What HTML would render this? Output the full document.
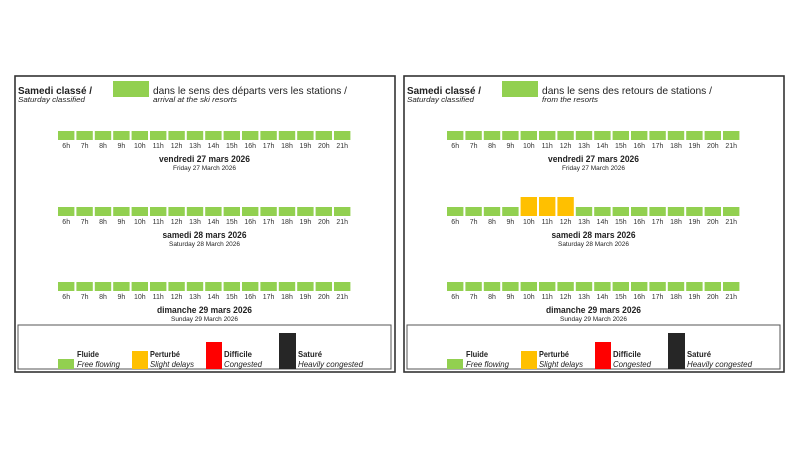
<!DOCTYPE html>
<html>
<head>
<meta charset="utf-8">
<style>
html,body{margin:0;padding:0;background:#fff;}
svg{display:block;}
text{font-family:"Liberation Sans",Arial,sans-serif;fill:#222;}
.b{font-weight:bold;}
.i{font-style:italic;}
.h{font-size:7px;text-anchor:middle;fill:#333;}
</style>
</head>
<body>
<svg width="800" height="450" viewBox="0 0 800 450" xmlns="http://www.w3.org/2000/svg">
<rect x="0" y="0" width="800" height="450" fill="#fff"/>

<!-- ================= LEFT PANEL ================= -->
<g>
<rect x="15" y="76" width="380" height="296" fill="none" stroke="#333" stroke-width="1.6"/>
<rect x="18" y="325" width="373" height="44" fill="none" stroke="#555" stroke-width="1"/>

<text x="18" y="94" class="b" font-size="10.5" textLength="74" lengthAdjust="spacingAndGlyphs">Samedi classé /</text>
<text x="18" y="102" class="i" font-size="7.5" textLength="67" lengthAdjust="spacingAndGlyphs">Saturday classified</text>
<rect x="113" y="81" width="36" height="16" fill="#92D050"/>
<text x="153" y="94" font-size="10.5" textLength="194" lengthAdjust="spacingAndGlyphs">dans le sens des départs vers les stations /</text>
<text x="153" y="102" class="i" font-size="7.5" textLength="84" lengthAdjust="spacingAndGlyphs">arrival at the ski resorts</text>

<!-- row 1 -->
<g fill="#92D050">
<rect x="58" y="131" width="16.4" height="9"/><rect x="76.4" y="131" width="16.4" height="9"/><rect x="94.8" y="131" width="16.4" height="9"/><rect x="113.2" y="131" width="16.4" height="9"/><rect x="131.6" y="131" width="16.4" height="9"/><rect x="150" y="131" width="16.4" height="9"/><rect x="168.4" y="131" width="16.4" height="9"/><rect x="186.8" y="131" width="16.4" height="9"/><rect x="205.2" y="131" width="16.4" height="9"/><rect x="223.6" y="131" width="16.4" height="9"/><rect x="242" y="131" width="16.4" height="9"/><rect x="260.4" y="131" width="16.4" height="9"/><rect x="278.8" y="131" width="16.4" height="9"/><rect x="297.2" y="131" width="16.4" height="9"/><rect x="315.6" y="131" width="16.4" height="9"/><rect x="334" y="131" width="16.4" height="9"/>
</g>
<g>
<text class="h" x="66.2" y="148">6h</text><text class="h" x="84.6" y="148">7h</text><text class="h" x="103" y="148">8h</text><text class="h" x="121.4" y="148">9h</text><text class="h" x="139.8" y="148">10h</text><text class="h" x="158.2" y="148">11h</text><text class="h" x="176.6" y="148">12h</text><text class="h" x="195" y="148">13h</text><text class="h" x="213.4" y="148">14h</text><text class="h" x="231.8" y="148">15h</text><text class="h" x="250.2" y="148">16h</text><text class="h" x="268.6" y="148">17h</text><text class="h" x="287" y="148">18h</text><text class="h" x="305.4" y="148">19h</text><text class="h" x="323.8" y="148">20h</text><text class="h" x="342.2" y="148">21h</text>
</g>
<text x="204.5" y="162" class="b" font-size="9.5" text-anchor="middle" textLength="91" lengthAdjust="spacingAndGlyphs">vendredi 27 mars 2026</text>
<text x="204.5" y="170" font-size="6" text-anchor="middle" textLength="63" lengthAdjust="spacingAndGlyphs">Friday 27 March 2026</text>

<!-- row 2 -->
<g fill="#92D050">
<rect x="58" y="207" width="16.4" height="9"/><rect x="76.4" y="207" width="16.4" height="9"/><rect x="94.8" y="207" width="16.4" height="9"/><rect x="113.2" y="207" width="16.4" height="9"/><rect x="131.6" y="207" width="16.4" height="9"/><rect x="150" y="207" width="16.4" height="9"/><rect x="168.4" y="207" width="16.4" height="9"/><rect x="186.8" y="207" width="16.4" height="9"/><rect x="205.2" y="207" width="16.4" height="9"/><rect x="223.6" y="207" width="16.4" height="9"/><rect x="242" y="207" width="16.4" height="9"/><rect x="260.4" y="207" width="16.4" height="9"/><rect x="278.8" y="207" width="16.4" height="9"/><rect x="297.2" y="207" width="16.4" height="9"/><rect x="315.6" y="207" width="16.4" height="9"/><rect x="334" y="207" width="16.4" height="9"/>
</g>
<g>
<text class="h" x="66.2" y="224">6h</text><text class="h" x="84.6" y="224">7h</text><text class="h" x="103" y="224">8h</text><text class="h" x="121.4" y="224">9h</text><text class="h" x="139.8" y="224">10h</text><text class="h" x="158.2" y="224">11h</text><text class="h" x="176.6" y="224">12h</text><text class="h" x="195" y="224">13h</text><text class="h" x="213.4" y="224">14h</text><text class="h" x="231.8" y="224">15h</text><text class="h" x="250.2" y="224">16h</text><text class="h" x="268.6" y="224">17h</text><text class="h" x="287" y="224">18h</text><text class="h" x="305.4" y="224">19h</text><text class="h" x="323.8" y="224">20h</text><text class="h" x="342.2" y="224">21h</text>
</g>
<text x="204.5" y="238" class="b" font-size="9.5" text-anchor="middle" textLength="84" lengthAdjust="spacingAndGlyphs">samedi 28 mars 2026</text>
<text x="204.5" y="246" font-size="6" text-anchor="middle" textLength="71" lengthAdjust="spacingAndGlyphs">Saturday 28 March 2026</text>

<!-- row 3 -->
<g fill="#92D050">
<rect x="58" y="282" width="16.4" height="9"/><rect x="76.4" y="282" width="16.4" height="9"/><rect x="94.8" y="282" width="16.4" height="9"/><rect x="113.2" y="282" width="16.4" height="9"/><rect x="131.6" y="282" width="16.4" height="9"/><rect x="150" y="282" width="16.4" height="9"/><rect x="168.4" y="282" width="16.4" height="9"/><rect x="186.8" y="282" width="16.4" height="9"/><rect x="205.2" y="282" width="16.4" height="9"/><rect x="223.6" y="282" width="16.4" height="9"/><rect x="242" y="282" width="16.4" height="9"/><rect x="260.4" y="282" width="16.4" height="9"/><rect x="278.8" y="282" width="16.4" height="9"/><rect x="297.2" y="282" width="16.4" height="9"/><rect x="315.6" y="282" width="16.4" height="9"/><rect x="334" y="282" width="16.4" height="9"/>
</g>
<g>
<text class="h" x="66.2" y="299">6h</text><text class="h" x="84.6" y="299">7h</text><text class="h" x="103" y="299">8h</text><text class="h" x="121.4" y="299">9h</text><text class="h" x="139.8" y="299">10h</text><text class="h" x="158.2" y="299">11h</text><text class="h" x="176.6" y="299">12h</text><text class="h" x="195" y="299">13h</text><text class="h" x="213.4" y="299">14h</text><text class="h" x="231.8" y="299">15h</text><text class="h" x="250.2" y="299">16h</text><text class="h" x="268.6" y="299">17h</text><text class="h" x="287" y="299">18h</text><text class="h" x="305.4" y="299">19h</text><text class="h" x="323.8" y="299">20h</text><text class="h" x="342.2" y="299">21h</text>
</g>
<text x="204.5" y="313" class="b" font-size="9.5" text-anchor="middle" textLength="95" lengthAdjust="spacingAndGlyphs">dimanche 29 mars 2026</text>
<text x="204.5" y="321" font-size="6" text-anchor="middle" textLength="67" lengthAdjust="spacingAndGlyphs">Sunday 29 March 2026</text>

<!-- legend -->
<rect x="58" y="359" width="16" height="10" fill="#92D050"/>
<text x="77" y="357" class="b" font-size="8.5" textLength="22" lengthAdjust="spacingAndGlyphs">Fluide</text>
<text x="77" y="367" class="i" font-size="8.5" textLength="43" lengthAdjust="spacingAndGlyphs">Free flowing</text>
<rect x="132" y="351" width="16" height="18" fill="#FFC000"/>
<text x="150" y="357" class="b" font-size="8.5" textLength="30" lengthAdjust="spacingAndGlyphs">Perturbé</text>
<text x="150" y="367" class="i" font-size="8.5" textLength="44" lengthAdjust="spacingAndGlyphs">Slight delays</text>
<rect x="206" y="342" width="16" height="27" fill="#FF0000"/>
<text x="224" y="357" class="b" font-size="8.5" textLength="28" lengthAdjust="spacingAndGlyphs">Difficile</text>
<text x="224" y="367" class="i" font-size="8.5" textLength="38" lengthAdjust="spacingAndGlyphs">Congested</text>
<rect x="279" y="333" width="17" height="36" fill="#262626"/>
<text x="298" y="357" class="b" font-size="8.5" textLength="24" lengthAdjust="spacingAndGlyphs">Saturé</text>
<text x="298" y="367" class="i" font-size="8.5" textLength="65" lengthAdjust="spacingAndGlyphs">Heavily congested</text>
</g>

<!-- ================= RIGHT PANEL ================= -->
<g transform="translate(389,0)">
<rect x="15" y="76" width="380" height="296" fill="none" stroke="#333" stroke-width="1.6"/>
<rect x="18" y="325" width="373" height="44" fill="none" stroke="#555" stroke-width="1"/>

<text x="18" y="94" class="b" font-size="10.5" textLength="74" lengthAdjust="spacingAndGlyphs">Samedi classé /</text>
<text x="18" y="102" class="i" font-size="7.5" textLength="67" lengthAdjust="spacingAndGlyphs">Saturday classified</text>
<rect x="113" y="81" width="36" height="16" fill="#92D050"/>
<text x="153" y="94" font-size="10.5" textLength="170" lengthAdjust="spacingAndGlyphs">dans le sens des retours de stations /</text>
<text x="153" y="102" class="i" font-size="7.5" textLength="56" lengthAdjust="spacingAndGlyphs">from the resorts</text>

<!-- row 1 -->
<g fill="#92D050">
<rect x="58" y="131" width="16.4" height="9"/><rect x="76.4" y="131" width="16.4" height="9"/><rect x="94.8" y="131" width="16.4" height="9"/><rect x="113.2" y="131" width="16.4" height="9"/><rect x="131.6" y="131" width="16.4" height="9"/><rect x="150" y="131" width="16.4" height="9"/><rect x="168.4" y="131" width="16.4" height="9"/><rect x="186.8" y="131" width="16.4" height="9"/><rect x="205.2" y="131" width="16.4" height="9"/><rect x="223.6" y="131" width="16.4" height="9"/><rect x="242" y="131" width="16.4" height="9"/><rect x="260.4" y="131" width="16.4" height="9"/><rect x="278.8" y="131" width="16.4" height="9"/><rect x="297.2" y="131" width="16.4" height="9"/><rect x="315.6" y="131" width="16.4" height="9"/><rect x="334" y="131" width="16.4" height="9"/>
</g>
<g>
<text class="h" x="66.2" y="148">6h</text><text class="h" x="84.6" y="148">7h</text><text class="h" x="103" y="148">8h</text><text class="h" x="121.4" y="148">9h</text><text class="h" x="139.8" y="148">10h</text><text class="h" x="158.2" y="148">11h</text><text class="h" x="176.6" y="148">12h</text><text class="h" x="195" y="148">13h</text><text class="h" x="213.4" y="148">14h</text><text class="h" x="231.8" y="148">15h</text><text class="h" x="250.2" y="148">16h</text><text class="h" x="268.6" y="148">17h</text><text class="h" x="287" y="148">18h</text><text class="h" x="305.4" y="148">19h</text><text class="h" x="323.8" y="148">20h</text><text class="h" x="342.2" y="148">21h</text>
</g>
<text x="204.5" y="162" class="b" font-size="9.5" text-anchor="middle" textLength="91" lengthAdjust="spacingAndGlyphs">vendredi 27 mars 2026</text>
<text x="204.5" y="170" font-size="6" text-anchor="middle" textLength="63" lengthAdjust="spacingAndGlyphs">Friday 27 March 2026</text>

<!-- row 2 -->
<g fill="#92D050">
<rect x="58" y="207" width="16.4" height="9"/><rect x="76.4" y="207" width="16.4" height="9"/><rect x="94.8" y="207" width="16.4" height="9"/><rect x="113.2" y="207" width="16.4" height="9"/><rect x="186.8" y="207" width="16.4" height="9"/><rect x="205.2" y="207" width="16.4" height="9"/><rect x="223.6" y="207" width="16.4" height="9"/><rect x="242" y="207" width="16.4" height="9"/><rect x="260.4" y="207" width="16.4" height="9"/><rect x="278.8" y="207" width="16.4" height="9"/><rect x="297.2" y="207" width="16.4" height="9"/><rect x="315.6" y="207" width="16.4" height="9"/><rect x="334" y="207" width="16.4" height="9"/>
</g>
<g fill="#FFC000">
<rect x="131.6" y="197" width="16.4" height="19"/><rect x="150" y="197" width="16.4" height="19"/><rect x="168.4" y="197" width="16.4" height="19"/>
</g>
<g>
<text class="h" x="66.2" y="224">6h</text><text class="h" x="84.6" y="224">7h</text><text class="h" x="103" y="224">8h</text><text class="h" x="121.4" y="224">9h</text><text class="h" x="139.8" y="224">10h</text><text class="h" x="158.2" y="224">11h</text><text class="h" x="176.6" y="224">12h</text><text class="h" x="195" y="224">13h</text><text class="h" x="213.4" y="224">14h</text><text class="h" x="231.8" y="224">15h</text><text class="h" x="250.2" y="224">16h</text><text class="h" x="268.6" y="224">17h</text><text class="h" x="287" y="224">18h</text><text class="h" x="305.4" y="224">19h</text><text class="h" x="323.8" y="224">20h</text><text class="h" x="342.2" y="224">21h</text>
</g>
<text x="204.5" y="238" class="b" font-size="9.5" text-anchor="middle" textLength="84" lengthAdjust="spacingAndGlyphs">samedi 28 mars 2026</text>
<text x="204.5" y="246" font-size="6" text-anchor="middle" textLength="71" lengthAdjust="spacingAndGlyphs">Saturday 28 March 2026</text>

<!-- row 3 -->
<g fill="#92D050">
<rect x="58" y="282" width="16.4" height="9"/><rect x="76.4" y="282" width="16.4" height="9"/><rect x="94.8" y="282" width="16.4" height="9"/><rect x="113.2" y="282" width="16.4" height="9"/><rect x="131.6" y="282" width="16.4" height="9"/><rect x="150" y="282" width="16.4" height="9"/><rect x="168.4" y="282" width="16.4" height="9"/><rect x="186.8" y="282" width="16.4" height="9"/><rect x="205.2" y="282" width="16.4" height="9"/><rect x="223.6" y="282" width="16.4" height="9"/><rect x="242" y="282" width="16.4" height="9"/><rect x="260.4" y="282" width="16.4" height="9"/><rect x="278.8" y="282" width="16.4" height="9"/><rect x="297.2" y="282" width="16.4" height="9"/><rect x="315.6" y="282" width="16.4" height="9"/><rect x="334" y="282" width="16.4" height="9"/>
</g>
<g>
<text class="h" x="66.2" y="299">6h</text><text class="h" x="84.6" y="299">7h</text><text class="h" x="103" y="299">8h</text><text class="h" x="121.4" y="299">9h</text><text class="h" x="139.8" y="299">10h</text><text class="h" x="158.2" y="299">11h</text><text class="h" x="176.6" y="299">12h</text><text class="h" x="195" y="299">13h</text><text class="h" x="213.4" y="299">14h</text><text class="h" x="231.8" y="299">15h</text><text class="h" x="250.2" y="299">16h</text><text class="h" x="268.6" y="299">17h</text><text class="h" x="287" y="299">18h</text><text class="h" x="305.4" y="299">19h</text><text class="h" x="323.8" y="299">20h</text><text class="h" x="342.2" y="299">21h</text>
</g>
<text x="204.5" y="313" class="b" font-size="9.5" text-anchor="middle" textLength="95" lengthAdjust="spacingAndGlyphs">dimanche 29 mars 2026</text>
<text x="204.5" y="321" font-size="6" text-anchor="middle" textLength="67" lengthAdjust="spacingAndGlyphs">Sunday 29 March 2026</text>

<!-- legend -->
<rect x="58" y="359" width="16" height="10" fill="#92D050"/>
<text x="77" y="357" class="b" font-size="8.5" textLength="22" lengthAdjust="spacingAndGlyphs">Fluide</text>
<text x="77" y="367" class="i" font-size="8.5" textLength="43" lengthAdjust="spacingAndGlyphs">Free flowing</text>
<rect x="132" y="351" width="16" height="18" fill="#FFC000"/>
<text x="150" y="357" class="b" font-size="8.5" textLength="30" lengthAdjust="spacingAndGlyphs">Perturbé</text>
<text x="150" y="367" class="i" font-size="8.5" textLength="44" lengthAdjust="spacingAndGlyphs">Slight delays</text>
<rect x="206" y="342" width="16" height="27" fill="#FF0000"/>
<text x="224" y="357" class="b" font-size="8.5" textLength="28" lengthAdjust="spacingAndGlyphs">Difficile</text>
<text x="224" y="367" class="i" font-size="8.5" textLength="38" lengthAdjust="spacingAndGlyphs">Congested</text>
<rect x="279" y="333" width="17" height="36" fill="#262626"/>
<text x="298" y="357" class="b" font-size="8.5" textLength="24" lengthAdjust="spacingAndGlyphs">Saturé</text>
<text x="298" y="367" class="i" font-size="8.5" textLength="65" lengthAdjust="spacingAndGlyphs">Heavily congested</text>
</g>
</svg>
</body>
</html>
